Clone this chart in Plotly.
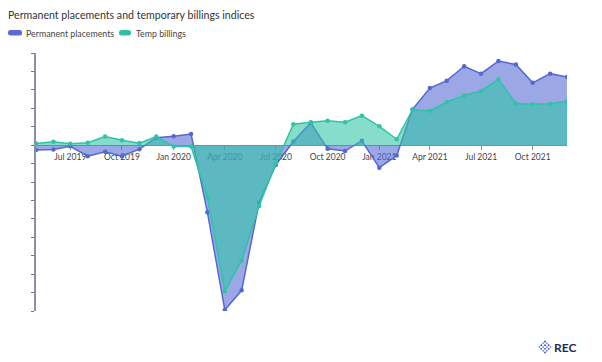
import math
import plotly.graph_objects as go
import pandas as pd

months = pd.date_range("2019-05-01", "2021-12-01", freq="MS")

permanent = [-1.35, -1.2, -0.3, -3.0, -1.8, -3.0, -1.1, 2.0, 2.4, 3.0,
             -18.2, -44.7, -39.4, -15.6, -5.3, 1.0, 6.1, -1.0, -1.6, 1.2,
             -6.1, -2.8, 9.7, 15.5, 17.5, 21.4, 19.4, 22.8, 21.9, 16.9, 19.4, 18.5]
temp = [0.46, 0.9, 0.4, 0.65, 2.35, 1.3, 0.55, 2.35, -0.35, -0.35,
        -14.2, -39.6, -31.3, -16.5, -4.9, 5.7, 6.2, 6.6, 6.2, 8.0,
        5.1, 1.6, 9.6, 9.3, 11.7, 13.5, 14.7, 17.9, 11.3, 11.1, 11.2, 11.9]

series_names = ["Permanent placements", "Temp billings"]
line_colors = ["#5468d4", "#2ec4a5"]
fill_colors = ["rgba(84,104,212,0.58)", "rgba(46,196,165,0.58)"]

FONT = "Lato, 'Open Sans', sans-serif"
y_min, y_max = -45, 25

# page is rendered with an 8px body margin: figure is 594x354 at (8,8)
W, H = 594, 354
ML, MR, MT, MB = 28, 35, 45, 51
PW, PH = W - ML - MR, H - MT - MB   # 531 x 258
PL, PB = 8 + ML, 8 + H - MB         # plot-area left / bottom in page pixels

fig = go.Figure()
for name, vals, lc, fc in zip(series_names, [permanent, temp], line_colors, fill_colors):
    fig.add_trace(go.Scatter(
        x=months, y=vals, name=name, mode="lines+markers", fill="tozeroy",
        fillcolor=fc, line=dict(color=lc, width=1.5), marker=dict(color=lc, size=4.5),
        showlegend=False, hoverinfo="x+y+name"))

zero_pos = (0 - y_min) / (y_max - y_min)

fig.update_layout(
    width=W, height=H,
    margin=dict(l=ML, r=MR, t=MT, b=MB),
    paper_bgcolor="white", plot_bgcolor="white",
    font=dict(family=FONT, color="#444"),
    title=dict(text="Permanent placements and temporary billings indices",
               x=0, xanchor="left", y=1 - 7 / H, yanchor="middle",
               font=dict(size=10.6, color="#333", family=FONT)),
    xaxis=dict(type="date", range=[months[0], months[-1]],
               anchor="free", position=zero_pos,
               showline=True, linecolor="#8c90a6", linewidth=1.2,
               ticks="outside", ticklen=4, tickcolor="#8c90a6",
               dtick="M3", tick0="2019-07-01", tickformat="%b %Y",
               tickfont=dict(size=8.5, color="#3f3f4a", family=FONT),
               showgrid=False, zeroline=False, layer="below traces"),
    yaxis=dict(range=[y_min, y_max], dtick=5, tick0=0,
               showticklabels=False, showgrid=False, zeroline=False,
               showline=True, linecolor="#8c90a6", linewidth=1.5,
               ticks="outside", ticklen=3, tickcolor="#6f7390"),
)


def px(xp):
    return xp - PL


def py(yp):
    return PB - yp


def ax(xp):
    return (xp - PL) / PW


def ay(yp):
    return (PB - yp) / PH


# manual legend
legend_items = [(8, 22, 24, series_names[0], "#5a6ad6"), (119, 131, 134, series_names[1], "#32bfa6")]
for x0, x1, tx, txt, col in legend_items:
    a0, a1 = px(x0), px(x1)
    b0, b1 = py(35.5), py(30)
    r = 2.5
    path = (f"M{a0+r},{b0} L{a1-r},{b0} Q{a1},{b0} {a1},{b0+r} L{a1},{b1-r} Q{a1},{b1} {a1-r},{b1} "
            f"L{a0+r},{b1} Q{a0},{b1} {a0},{b1-r} L{a0},{b0+r} Q{a0},{b0} {a0+r},{b0} Z")
    fig.add_shape(type="path", xref="paper", yref="paper", xsizemode="pixel", ysizemode="pixel",
                  xanchor=0, yanchor=0, path=path, fillcolor=col, line=dict(width=0))
    fig.add_annotation(text=txt, xref="paper", yref="paper",
                       x=ax(tx), y=ay(33), xanchor="left", yanchor="middle", showarrow=False,
                       font=dict(size=8.8, color="#444", family=FONT))

# REC logo
cx, cy = 545, 347
step = 2.6
for i in range(4):
    for j in range(4):
        u = (i - 1.5) * step
        v = (j - 1.5) * step
        dx = cx + (u - v) / math.sqrt(2)
        dy = cy + (u + v) / math.sqrt(2)
        col = "#3350d6" if (i + j) % 2 == 0 else "#7f93ea"
        rr = 0.95
        fig.add_shape(type="circle", xref="paper", yref="paper", xsizemode="pixel", ysizemode="pixel",
                      xanchor=0, yanchor=0,
                      x0=px(dx - rr), x1=px(dx + rr), y0=py(dy + rr), y1=py(dy - rr),
                      fillcolor=col, line=dict(width=0))
fig.add_annotation(text="<b>REC</b>", xref="paper", yref="paper",
                   x=ax(552), y=ay(347), xanchor="left", yanchor="middle",
                   showarrow=False, font=dict(size=12, color="#1d2a5c", family=FONT))

fig.write_html("out.html")
